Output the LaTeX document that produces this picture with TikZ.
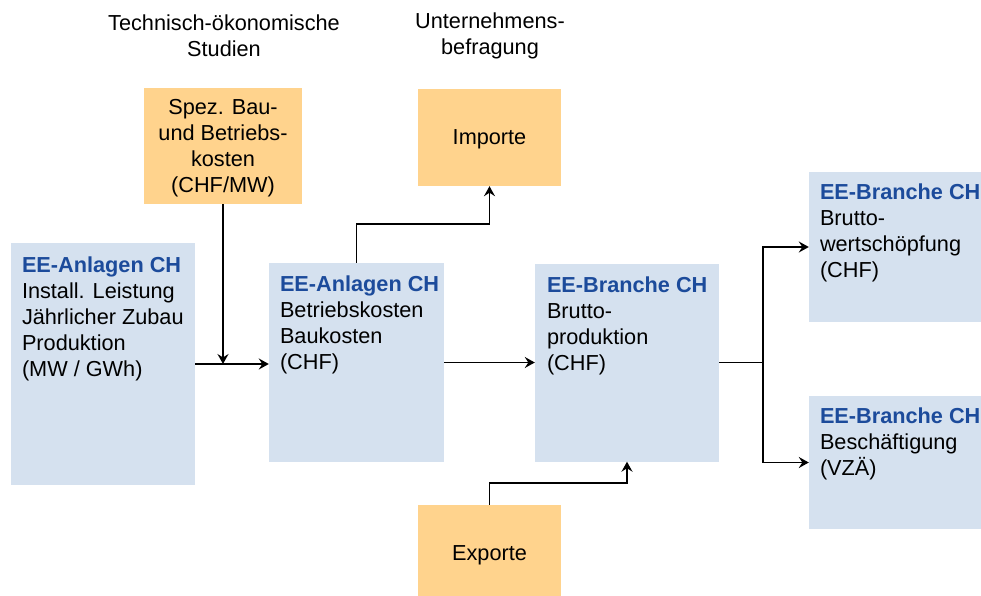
\documentclass[tikz,border=0pt]{standalone}
\usepackage{fontspec}
\setmainfont{Liberation Sans}
\usetikzlibrary{arrows.meta}

\definecolor{hellblau}{HTML}{D5E1EF}
\definecolor{hellorange}{HTML}{FFD38D}
\definecolor{titelblau}{HTML}{1C4B9B}

\tikzset{
	blaubox/.style   = { fill = hellblau, inner sep = 0pt },
	orangebox/.style = { fill = hellorange, inner sep = 0pt, align = center, text depth = 0pt },
	boxtext/.style   = { anchor = north west, inner sep = 0pt, align = left },
	pfeil/.style     = { line width = 1.9pt, -{Stealth[length = 10pt, width = 11pt, inset = 3.5pt]} },
	linie/.style     = { line width = 1.9pt }
}
\newcommand{\titel}[1]{\textcolor{titelblau}{\textbf{#1}}}

\begin{document}
\begin{tikzpicture}[x = 1pt, y = -1pt, every node/.style = { font = \fontsize{21.7}{26}\selectfont }]
		\useasboundingbox ( 0, 0 ) rectangle ( 981, 596 );

		% Quellen
		\node [align = center] (studien) at ( 224, 36 ) {Technisch-ökonomische\\Studien};
		\node [align = center] (umfrage) at ( 490, 36 ) {Unternehmens-\\befragung};

		% Eingaben
		\node [orangebox, minimum width = 158, minimum height = 116] (spez) at ( 223, 146 ) {Spez. Bau-\\und Betriebs-\\kosten\\(CHF/MW)};
		\node [orangebox, minimum width = 143, minimum height = 97] (imp) at ( 489.5, 137.5 ) {Importe};
		\node [orangebox, minimum width = 143, minimum height = 97] (exp) at ( 489.5, 553.5 ) {Exporte};

		% EE-Anlagen CH
		\node [blaubox, minimum width = 184, minimum height = 242] (anl) at ( 103, 364 ) {};
		\node [boxtext] (anltext) at ([shift={(11,14)}]anl.north west) {\titel{EE-Anlagen CH}\\Install. Leistung\\Jährlicher Zubau\\Produktion\\(MW / GWh)};

		\node [blaubox, minimum width = 175, minimum height = 199] (kost) at ( 356.5, 362.5 ) {};
		\node [boxtext] (kosttext) at ([shift={(11,13)}]kost.north west) {\titel{EE-Anlagen CH}\\Betriebskosten\\Baukosten\\(CHF)};

		% EE-Branche CH
		\node [blaubox, minimum width = 184, minimum height = 198] (brut) at ( 627, 362.5 ) {};
		\node [boxtext] (bruttext) at ([shift={(12,13)}]brut.north west) {\titel{EE-Branche CH}\\Brutto-\\produktion\\(CHF)};

		\node [blaubox, minimum width = 184, minimum height = 150] (wert) at ( 901, 247 ) {};
		\node [boxtext] (werttext) at ([shift={(11,12)}]wert.north west) {\titel{EE-Branche CH}\\Brutto-\\wertschöpfung\\(CHF)};

		\node [blaubox, minimum width = 184, minimum height = 133] (besch) at ( 901, 462.5 ) {};
		\node [boxtext] (beschtext) at ([shift={(11,12)}]besch.north west) {\titel{EE-Branche CH}\\Beschäftigung\\(VZÄ)};

		% Verbindungen
		\draw [pfeil] (anl.east) -- (anl.east -| kost.west);
		\draw [pfeil] (spez.south) -- (spez.south |- anl.east);
		\draw [pfeil] (kost.north) -- ++( 0, -39 ) -| (imp.south);
		\draw [pfeil] (kost.east) -- (brut.west);
		\draw [pfeil] (exp.north) -- ++( 0, -22 ) -| (brut.south);

		\coordinate (verteiler) at ([xshift=44]brut.east);
		\draw [linie] (brut.east) -- (verteiler);
		\draw [pfeil] (verteiler) |- (wert.west);
		\draw [pfeil] (verteiler) |- (besch.west);
	\end{tikzpicture}
\end{document}
